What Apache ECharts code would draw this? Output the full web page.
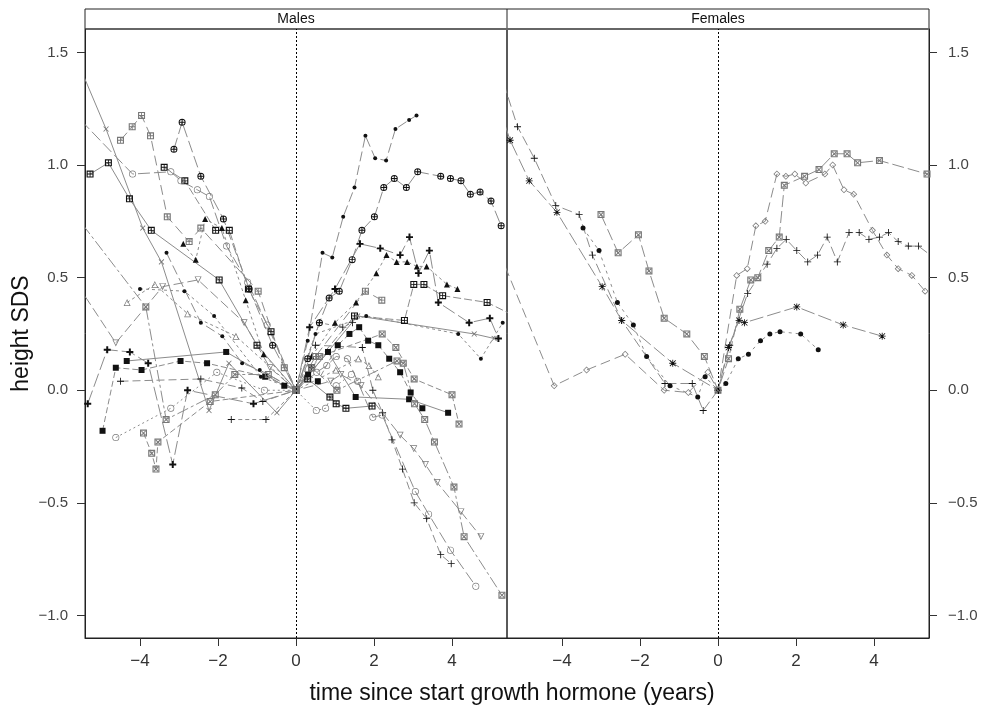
<!DOCTYPE html>
<html>
<head>
<meta charset="utf-8">
<script src="https://cdn.jsdelivr.net/npm/echarts@6/dist/echarts.min.js"></script>
<style>
html,body{margin:0;padding:0;background:#fff;}
#c{width:985px;height:722px;}
</style>
</head>
<body>
<div id="c"></div>
<script>
// ---------- data (time since start GH in years, height SDS) ----------
const panels = ['Males', 'Females'];
const xTicks = [-4, -2, 0, 2, 4];
const yTicks = [-1, -0.5, 0, 0.5, 1, 1.5];
const xTitle = 'time since start growth hormone (years)';
const yTitle = 'height SDS';

// Males
const mDotA = [[-3.32,0.61],[-2.44,0.30],[-1.89,0.24],[-1.38,0.12],[-0.93,0.09],[0,0],[0.30,0.22],[0.68,0.61],[0.93,0.59],[1.21,0.77],[1.50,0.90],[1.78,1.13],[2.03,1.03],[2.31,1.02],[2.55,1.16],[2.90,1.20],[3.09,1.22]];
const mDotB = [[-4.00,0.45],[-2.86,0.44],[-2.10,0.33],[-0.90,0.06],[0,0],[0.50,0.25],[1.80,0.33],[4.16,0.25],[4.74,0.14],[5.30,0.30]];
const mCirclePlus = [[-3.13,1.07],[-2.92,1.19],[-2.44,0.95],[-1.86,0.76],[-1.20,0.45],[-0.60,0.20],[0,0],[0.30,0.14],[0.60,0.30],[0.85,0.41],[1.11,0.44],[1.44,0.58],[1.69,0.71],[2.01,0.77],[2.25,0.90],[2.52,0.94],[2.83,0.90],[3.12,0.97],[3.71,0.95],[3.96,0.94],[4.23,0.93],[4.47,0.87],[4.72,0.88],[5.00,0.84],[5.26,0.73]];
const mBoldPlus = [[-5.34,-0.06],[-4.84,0.18],[-4.26,0.17],[-3.79,0.12],[-3.16,-0.33],[-2.78,0.00],[-1.09,-0.06],[0,0],[0.35,0.28],[1.00,0.45],[1.64,0.65],[2.16,0.63],[2.67,0.60],[2.91,0.68],[3.14,0.52],[3.42,0.62],[3.65,0.39],[4.44,0.30],[4.97,0.32],[5.19,0.23]];
const mPlusA = [[-4.50,0.04],[-2.44,0.05],[-1.39,0.01],[-0.85,-0.05],[0,0],[0.50,0.20],[1.70,0.19],[1.97,0.00],[2.22,-0.10],[2.46,-0.22],[2.73,-0.35],[3.03,-0.50],[3.35,-0.57],[3.71,-0.73],[3.98,-0.77]];
const mPlusB = [[-1.66,-0.13],[-0.77,-0.13],[0,0],[0.60,0.30],[1.20,0.28],[1.45,0.30]];
const mTriUp = [[-2.89,0.65],[-2.57,0.58],[-2.33,0.76],[-1.90,0.72],[-1.29,0.40],[-0.83,0.16],[0,0],[0.40,0.15],[1.00,0.30],[1.54,0.39],[2.06,0.52],[2.32,0.60],[2.58,0.57],[2.85,0.57],[3.10,0.55],[3.35,0.55],[3.87,0.47],[4.14,0.45]];
const mGridA = [[-3.38,0.99],[-2.85,0.93],[-2.06,0.71],[-1.71,0.71],[-1.22,0.45],[-0.64,0.26],[0,0],[0.40,0.10],[1.50,0.33],[2.78,0.31],[3.02,0.47],[3.28,0.47],[3.76,0.42],[4.90,0.39],[5.60,0.33]];
const mGridB = [[-5.28,0.96],[-4.81,1.01],[-4.27,0.85],[-3.71,0.71],[-1.97,0.49],[-1.00,0.20],[0,0],[0.30,0.05],[0.87,-0.03],[1.03,-0.06],[1.28,-0.08],[1.95,-0.07]];
const mSquareA = [[-4.96,-0.18],[-4.62,0.10],[-3.96,0.09],[-2.96,0.13],[-2.28,0.12],[-0.79,0.06],[0,0],[0.31,0.07],[0.56,0.04],[1.07,0.20],[1.37,0.25],[1.62,0.28],[1.85,0.22],[2.11,0.20],[2.39,0.14],[2.67,0.08],[2.94,-0.01],[3.24,-0.08]];
const mSquareB = [[-4.34,0.13],[-1.79,0.17],[-0.30,0.02],[0,0],[0.82,0.17],[1.53,-0.03],[2.90,-0.04],[3.90,-0.10]];
const mCircleA = [[-5.80,1.25],[-4.19,0.96],[-3.21,0.97],[-2.95,0.93],[-2.53,0.89],[-2.22,0.86],[-1.78,0.64],[-1.24,0.48],[-0.74,0.29],[0,0],[0.53,0.08],[0.79,0.11],[1.03,0.15],[1.32,0.14],[1.58,0.04],[1.97,-0.12],[2.21,-0.11],[3.06,-0.45],[3.40,-0.55],[3.96,-0.71],[4.61,-0.87]];
const mCircleB = [[-4.62,-0.21],[-3.21,-0.08],[-2.03,0.08],[-0.81,0.00],[0,0],[0.52,-0.09],[0.76,-0.08],[1.03,0.02],[1.42,0.07]];
const mTriDown = [[-5.80,0.52],[-4.62,0.21],[-3.42,0.46],[-2.51,0.49],[-1.33,0.30],[-0.67,0.10],[0,0],[0.89,0.04],[1.15,0.07],[1.67,0.02],[2.67,-0.20],[3.02,-0.26],[3.32,-0.33],[3.62,-0.41],[4.23,-0.54],[4.74,-0.65]];
const mTriOpen = [[-4.33,0.39],[-3.62,0.47],[-2.78,0.34],[-1.54,0.24],[0,0],[1.02,0.09],[1.60,0.14],[1.87,0.11],[2.11,0.06]];
const mCross = [[-5.70,1.50],[-4.87,1.16],[-3.93,0.72],[-3.45,0.57],[-2.23,-0.09],[-1.72,0.12],[-0.49,-0.10],[0,0],[1.58,0.33],[4.57,0.25],[5.08,0.23]];
const mBoxXA = [[-5.80,0.81],[-3.85,0.37],[-3.33,-0.13],[-2.07,-0.02],[-1.57,0.07],[-0.71,0.07],[0,0],[0.40,0.10],[1.05,0.00],[2.59,0.13],[2.75,0.12],[3.04,-0.06],[3.30,-0.13],[3.55,-0.23],[4.05,-0.43],[4.31,-0.65],[5.28,-0.91]];
const mBoxXB = [[-3.91,-0.19],[-3.70,-0.28],[-3.59,-0.35],[-3.54,-0.23],[-2.20,-0.05],[0,0],[0.60,0.15],[2.21,0.25],[2.56,0.19],[3.03,0.05],[4.00,-0.02],[4.18,-0.15]];
const mBoxGray = [[-4.50,1.11],[-4.20,1.17],[-3.96,1.22],[-3.73,1.13],[-3.30,0.77],[-2.74,0.66],[-2.44,0.72],[-0.97,0.44],[-0.30,0.10],[0,0],[0.50,0.15],[1.78,0.44],[2.20,0.40]];

// Females
const fPlus = [[-5.60,1.42],[-5.14,1.17],[-4.71,1.03],[-4.16,0.82],[-3.56,0.78],[-3.22,0.60],[-2.47,0.31],[-1.36,0.03],[-0.66,0.03],[-0.38,-0.09],[0,0],[0.30,0.20],[0.76,0.43],[1.26,0.56],[1.51,0.63],[1.75,0.67],[2.02,0.62],[2.30,0.57],[2.55,0.60],[2.80,0.68],[3.06,0.57],[3.36,0.70],[3.62,0.70],[3.87,0.67],[4.14,0.68],[4.37,0.70],[4.62,0.66],[4.88,0.64],[5.14,0.64],[5.60,0.58]];
const fStar = [[-5.60,1.25],[-5.33,1.11],[-4.84,0.93],[-4.13,0.79],[-2.97,0.46],[-2.47,0.31],[-1.16,0.12],[0,0],[0.27,0.19],[0.54,0.31],[0.68,0.30],[2.02,0.37],[3.21,0.29],[4.21,0.24]];
const fDot = [[-3.46,0.72],[-3.05,0.62],[-2.58,0.39],[-2.17,0.29],[-1.83,0.15],[-1.23,0.02],[-0.52,-0.03],[-0.33,0.06],[0,0],[0.20,0.03],[0.52,0.14],[0.78,0.16],[1.09,0.22],[1.33,0.25],[1.59,0.26],[2.12,0.25],[2.57,0.18]];
const fBoxX = [[-3.00,0.78],[-2.56,0.61],[-2.04,0.69],[-1.77,0.53],[-1.38,0.32],[-0.80,0.25],[-0.35,0.15],[0,0],[0.27,0.14],[0.56,0.36],[0.84,0.49],[1.02,0.50],[1.30,0.62],[1.57,0.68],[1.70,0.91],[2.22,0.95],[2.59,0.98],[2.98,1.05],[3.31,1.05],[3.58,1.01],[4.14,1.02],[5.36,0.96]];
const fDiamond = [[-5.60,0.61],[-4.20,0.02],[-3.37,0.09],[-2.38,0.16],[-1.38,0.00],[-0.76,-0.01],[-0.26,0.08],[0,0],[0.48,0.51],[0.75,0.54],[0.97,0.73],[1.21,0.75],[1.51,0.96],[1.74,0.95],[1.97,0.96],[2.25,0.92],[2.74,0.96],[2.94,1.00],[3.23,0.89],[3.48,0.87],[3.96,0.71],[4.33,0.60],[4.62,0.54],[4.97,0.51],[5.31,0.44]];

// ---------- symbols ----------
const SYM = {
  dot: 'circle',
  circ: 'path://M5,0A5,5,0,1,1,5,10A5,5,0,1,1,5,0Z M5,1A4,4,0,1,0,5,9A4,4,0,1,0,5,1Z',
  tri: 'triangle',
  etri: 'path://M5,0L10,10L0,10Z M5,2.4L1.6,9L8.4,9Z',
  sq: 'rect',
  dia: 'path://M5,0L10,5L5,10L0,5Z M5,1.5L1.5,5L5,8.5L8.5,5Z',
  plus: 'path://M4.4,0H5.6V4.4H10V5.6H5.6V10H4.4V5.6H0V4.4H4.4Z',
  bplus: 'path://M3.6,0H6.4V3.6H10V6.4H6.4V10H3.6V6.4H0V3.6H3.6Z',
  star: 'path://M4.4,0H5.6V4.4H10V5.6H5.6V10H4.4V5.6H0V4.4H4.4Z M1.3,0.5L5,4.2L8.7,0.5L9.5,1.3L5.8,5L9.5,8.7L8.7,9.5L5,5.8L1.3,9.5L0.5,8.7L4.2,5L0.5,1.3Z',
  grid: 'path://M0,0H10V10H0Z M1.6,1.6V8.4H8.4V1.6Z M4.4,1.6H5.6V8.4H4.4Z M1.6,4.4H8.4V5.6H1.6Z',
  boxx: 'path://M0,0H10V10H0Z M1.6,1.6V8.4H8.4V1.6Z M1.6,2.6L2.6,1.6L8.4,7.4L7.4,8.4Z M7.4,1.6L8.4,2.6L2.6,8.4L1.6,7.4Z',
  cplus: 'path://M5,0A5,5,0,1,1,5,10A5,5,0,1,1,5,0Z M5,1.4A3.6,3.6,0,1,0,5,8.6A3.6,3.6,0,1,0,5,1.4Z M4.3,1.4H5.7V8.6H4.3Z M1.4,4.3H8.6V5.7H1.4Z'
};
const BLACK = '#111', GRAY = '#777', LGRAY = '#7a7a7a', LINE = '#8c8c8c';

const maleSpec = [
  [mDotA, 'dot', 4, BLACK, [10,4], 0],
  [mDotB, 'dot', 4, BLACK, [3,3], 0],
  [mCirclePlus, 'cplus', 7, BLACK, [12,4], 0],
  [mBoldPlus, 'bplus', 7, BLACK, [14,4], 0],
  [mPlusA, 'plus', 7, BLACK, [8,4], 0],
  [mPlusB, 'plus', 7, BLACK, [4,3], 0],
  [mTriUp, 'tri', 6, BLACK, [3,3], 0],
  [mGridA, 'grid', 7, BLACK, [8,3], 0],
  [mGridB, 'grid', 7, BLACK, 'solid', 0],
  [mSquareA, 'sq', 6, BLACK, [6,3], 0],
  [mSquareB, 'sq', 6, BLACK, 'solid', 0],
  [mCircleA, 'circ', 7, LGRAY, [12,4], 0],
  [mCircleB, 'circ', 7, LGRAY, [2,3], 0],
  [mTriDown, 'etri', 7, LGRAY, [10,4], 180],
  [mTriOpen, 'etri', 7, LGRAY, [3,3], 0],
  [mCross, 'plus', 7, GRAY, 'solid', 45],
  [mBoxXA, 'boxx', 7, GRAY, [12,3,3,3], 0],
  [mBoxXB, 'boxx', 7, GRAY, [6,3], 0],
  [mBoxGray, 'grid', 7, GRAY, [10,5], 0]
];
const femaleSpec = [
  [fPlus, 'plus', 7, BLACK, [10,4], 0],
  [fStar, 'star', 7, BLACK, [14,4], 0],
  [fDot, 'dot', 5, BLACK, [3,4], 0],
  [fBoxX, 'boxx', 7, GRAY, [12,4], 0],
  [fDiamond, 'dia', 7, LGRAY, [10,5], 0]
];

function mk(spec, idx) {
  const [data, sym, size, color, dash, rot] = spec;
  return {
    type: 'line', xAxisIndex: idx, yAxisIndex: idx, data: data,
    symbol: SYM[sym], symbolSize: size, symbolRotate: rot, showSymbol: true,
    itemStyle: { color: color, borderWidth: 0 },
    lineStyle: { color: LINE, width: 1, type: dash },
    emphasis: { disabled: true }, animation: false, clip: true
  };
}

const series = [];
maleSpec.forEach(s => series.push(mk(s, 0)));
femaleSpec.forEach(s => series.push(mk(s, 1)));
[0, 1].forEach(i => series.push({
  type: 'line', xAxisIndex: i, yAxisIndex: i, data: [], animation: false,
  markLine: { silent: true, symbol: ['none','none'], label: { show: false }, animation: false,
    lineStyle: { color: '#000', type: [2,2], width: 1 }, data: [{ xAxis: 0 }] }
}));

const fmtX = v => v < 0 ? '\u2212' + Math.abs(v) : String(v);
const fmtY = v => (v < 0 ? '\u2212' : '') + Math.abs(v).toFixed(1);
const narrow = '"Liberation Sans Narrow", "Liberation Sans", Arial, sans-serif';
const sans = '"Liberation Sans", Arial, sans-serif';

const L = 85, T = 29, W = 422, H = 609;
function xAx(i) {
  return {
    type: 'value', gridIndex: i, min: -5.41, max: 5.41,
    axisLine: { show: true, onZero: false, lineStyle: { color: '#222' } },
    axisTick: { show: true, customValues: xTicks, length: 8, lineStyle: { color: '#333' } },
    axisLabel: { show: true, customValues: xTicks, formatter: fmtX, fontSize: 17, color: '#333', fontFamily: narrow, margin: 15 },
    splitLine: { show: false }
  };
}
function yAx(i) {
  const o = {
    type: 'value', gridIndex: i, min: -1.10, max: 1.604, position: i === 0 ? 'left' : 'right',
    axisLine: { show: true, onZero: false, lineStyle: { color: '#222' } },
    axisTick: { show: true, customValues: yTicks, length: 8, lineStyle: { color: '#333' } },
    axisLabel: { show: true, customValues: yTicks, formatter: fmtY, fontSize: 15, color: '#444', fontFamily: sans, margin: i === 0 ? 17 : 19 },
    splitLine: { show: false }
  };
  if (i === 0) {
    o.name = yTitle; o.nameLocation = 'middle'; o.nameGap = 52;
    o.nameTextStyle = { fontSize: 23, color: '#111', fontFamily: sans };
  }
  return o;
}

const chart = echarts.init(document.getElementById('c'), null, { renderer: 'canvas' });
chart.setOption({
  backgroundColor: '#fff',
  animation: false,
  grid: [
    { left: L, top: T, width: W, height: H, show: true, borderColor: '#222', borderWidth: 1, containLabel: false },
    { left: L + W, top: T, width: W, height: H, show: true, borderColor: '#222', borderWidth: 1, containLabel: false }
  ],
  xAxis: [xAx(0), xAx(1)],
  yAxis: [yAx(0), yAx(1)],
  series: series,
  graphic: [
    { type: 'rect', shape: { x: L, y: 9, width: 2 * W, height: T - 9 }, style: { fill: '#fff', stroke: '#222', lineWidth: 1 } },
    { type: 'line', shape: { x1: L + W, y1: 9, x2: L + W, y2: T }, style: { stroke: '#222', lineWidth: 1 } },
    { type: 'line', shape: { x1: L, y1: T, x2: L + 2 * W, y2: T }, style: { stroke: '#666', lineWidth: 2 } },
    { type: 'text', x: L + W / 2, y: 19, style: { text: panels[0], fontSize: 14, fontFamily: narrow, fill: '#111', align: 'center', verticalAlign: 'middle' } },
    { type: 'text', x: L + W * 1.5, y: 19, style: { text: panels[1], fontSize: 14, fontFamily: narrow, fill: '#111', align: 'center', verticalAlign: 'middle' } },
    { type: 'text', x: 512, y: 694, style: { text: xTitle, fontSize: 23, fontFamily: sans, fill: '#111', align: 'center', verticalAlign: 'middle' } }
  ]
});
</script>
</body>
</html>
